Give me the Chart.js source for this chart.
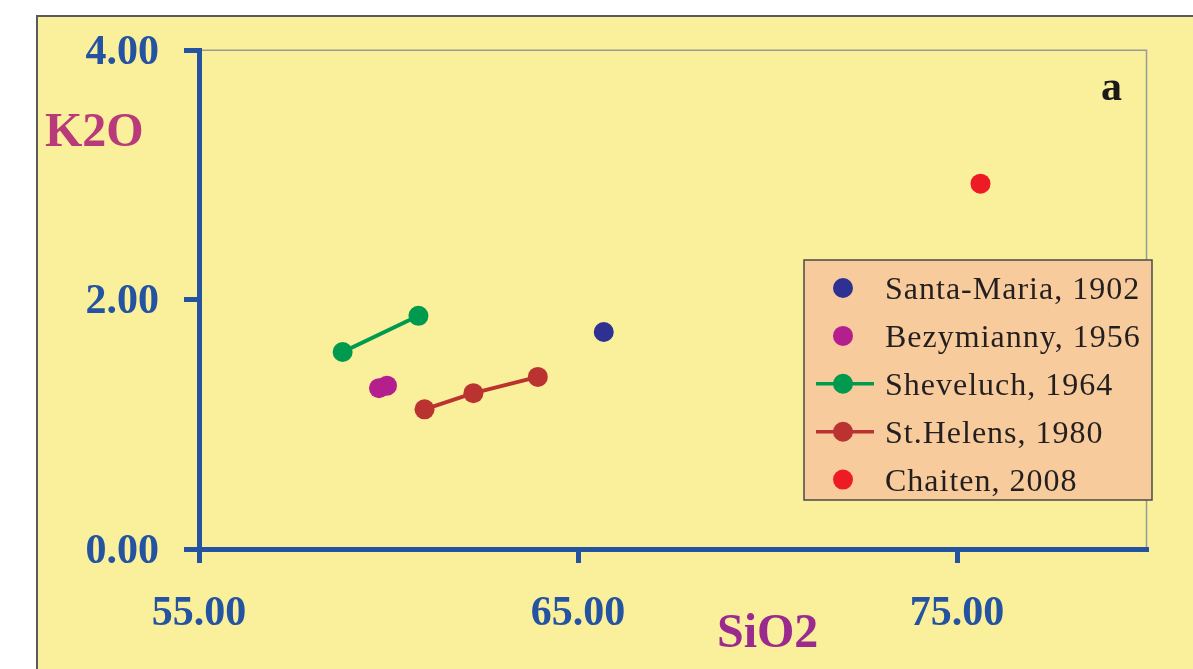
<!DOCTYPE html>
<html>
<head>
<meta charset="utf-8">
<title>K2O vs SiO2</title>
<script src="https://cdn.jsdelivr.net/npm/chart.js@4.4.1/dist/chart.umd.min.js"></script>
<style>
  html, body { margin: 0; padding: 0; background: #ffffff; }
  #wrap { width: 1193px; height: 669px; }
</style>
</head>
<body>
<div id="wrap"><canvas id="chart" width="1193" height="669"></canvas></div>
<script>
// Eruption products: SiO2 (wt%) vs K2O (wt%)
const seriesNames = ['Santa-Maria, 1902', 'Bezymianny, 1956', 'Sheveluch, 1964', 'St.Helens, 1980', 'Chaiten, 2008'];

const santaMariaSiO2 = [65.68];
const santaMariaK2O  = [1.74];

const bezymiannySiO2 = [59.75, 59.96];
const bezymiannyK2O  = [1.29, 1.31];

const shevelucSiO2 = [58.79, 60.79];
const shevelucK2O  = [1.58, 1.87];

const stHelensSiO2 = [60.95, 62.24, 63.94];
const stHelensK2O  = [1.12, 1.25, 1.38];

const chaitenSiO2 = [75.62];
const chaitenK2O  = [2.93];

const xTicks = [55, 65, 75];
const yTicks = [0, 2, 4];

const seriesColors = ['#2E3192', '#B41F8D', '#009A4E', '#BB3331', '#ED1C24'];

const AXIS_BLUE = '#2453A2';
const SERIF = "'Liberation Serif', 'Times New Roman', serif";

function toPoints(xs, ys) {
  return xs.map((x, i) => ({ x: x, y: ys[i] }));
}

const seriesData = [
  { x: santaMariaSiO2, y: santaMariaK2O, line: false },
  { x: bezymiannySiO2, y: bezymiannyK2O, line: false },
  { x: shevelucSiO2,   y: shevelucK2O,   line: true },
  { x: stHelensSiO2,   y: stHelensK2O,   line: true },
  { x: chaitenSiO2,    y: chaitenK2O,    line: false }
];

const datasets = seriesData.map((s, i) => ({
  label: seriesNames[i],
  data: toPoints(s.x, s.y),
  showLine: s.line,
  borderColor: seriesColors[i],
  backgroundColor: seriesColors[i],
  borderWidth: 4,
  pointRadius: 10,
  pointBorderWidth: 0,
  pointBackgroundColor: seriesColors[i],
  pointHoverRadius: 10
}));

// Page frame, plot frame and free-standing text labels
const framePlugin = {
  id: 'frame',
  beforeDraw(chart) {
    const ctx = chart.ctx;
    const a = chart.chartArea;
    ctx.save();
    ctx.fillStyle = '#ffffff';
    ctx.fillRect(0, 0, chart.width, chart.height);
    ctx.fillStyle = '#FAEF9A';
    ctx.fillRect(36, 15, chart.width - 36, chart.height - 15);
    ctx.strokeStyle = '#5a5a5a';
    ctx.lineWidth = 2;
    ctx.beginPath();
    ctx.moveTo(37, chart.height);
    ctx.lineTo(37, 16);
    ctx.lineTo(chart.width, 16);
    ctx.stroke();
    // plot area outline (top and right)
    ctx.strokeStyle = '#9a9a9a';
    ctx.lineWidth = 1.5;
    ctx.beginPath();
    ctx.moveTo(a.left, a.top);
    ctx.lineTo(a.right, a.top);
    ctx.lineTo(a.right, a.bottom);
    ctx.stroke();
    ctx.restore();
  },
  afterDraw(chart) {
    const ctx = chart.ctx;
    ctx.save();
    ctx.textAlign = 'left';
    ctx.textBaseline = 'alphabetic';
    ctx.font = 'bold 48px ' + SERIF;
    ctx.fillStyle = '#B83A7A';
    ctx.fillText('K2O', 45, 146);
    ctx.fillStyle = '#9B2A8E';
    ctx.fillText('SiO2', 717, 647);
    ctx.font = 'bold 42px ' + SERIF;
    ctx.fillStyle = '#1a1a1a';
    ctx.fillText('a', 1101, 100);
    ctx.restore();
  }
};

// Legend box drawn from the datasets
const legendBoxPlugin = {
  id: 'legendBox',
  afterDatasetsDraw(chart) {
    const ctx = chart.ctx;
    const box = { x: 804, y: 260, w: 348, h: 240 };
    const rowY0 = 288, rowStep = 47.9;
    ctx.save();
    ctx.fillStyle = '#F7CB9B';
    ctx.fillRect(box.x, box.y, box.w, box.h);
    ctx.strokeStyle = '#4a4a4a';
    ctx.lineWidth = 1.5;
    ctx.strokeRect(box.x, box.y, box.w, box.h);
    chart.data.datasets.forEach((ds, i) => {
      const cy = rowY0 + i * rowStep;
      const cx = 843;
      if (ds.showLine) {
        ctx.strokeStyle = ds.borderColor;
        ctx.lineWidth = 3.5;
        ctx.beginPath();
        ctx.moveTo(816, cy);
        ctx.lineTo(874, cy);
        ctx.stroke();
      }
      ctx.fillStyle = ds.pointBackgroundColor;
      ctx.beginPath();
      ctx.arc(cx, cy, 10, 0, Math.PI * 2);
      ctx.fill();
      ctx.fillStyle = '#231F20';
      ctx.font = '32px ' + SERIF;
      ctx.letterSpacing = '1px';
      ctx.textAlign = 'left';
      ctx.textBaseline = 'alphabetic';
      ctx.fillText(ds.label, 885, cy + 11);
    });
    ctx.restore();
  }
};

const tickFont = { family: SERIF, size: 42, weight: 'bold' };

new Chart(document.getElementById('chart'), {
  type: 'scatter',
  data: { datasets: datasets },
  options: {
    responsive: false,
    devicePixelRatio: 1,
    animation: false,
    layout: { padding: { left: 0, top: 50, right: 46.5, bottom: 0 } },
    plugins: {
      legend: { display: false },
      tooltip: { enabled: false }
    },
    scales: {
      x: {
        type: 'linear',
        min: 55,
        max: 80,
        afterBuildTicks(scale) { scale.ticks = xTicks.map(v => ({ value: v })); },
        afterFit(scale) { scale.height = 120; },
        ticks: {
          color: AXIS_BLUE,
          font: tickFont,
          padding: 26,
          maxRotation: 0,
          callback: v => Number(v).toFixed(2)
        },
        grid: { drawOnChartArea: false, drawTicks: true, tickLength: 14, color: AXIS_BLUE, lineWidth: 5 },
        border: { color: AXIS_BLUE, width: 5 }
      },
      y: {
        type: 'linear',
        min: 0,
        max: 4,
        afterBuildTicks(scale) { scale.ticks = yTicks.map(v => ({ value: v })); },
        afterFit(scale) { scale.width = 199; },
        ticks: {
          color: AXIS_BLUE,
          font: tickFont,
          padding: 25,
          labelOffset: 3,
          callback: v => Number(v).toFixed(2)
        },
        grid: { drawOnChartArea: false, drawTicks: true, tickLength: 15, color: AXIS_BLUE, lineWidth: 5 },
        border: { color: AXIS_BLUE, width: 5 }
      }
    }
  },
  plugins: [framePlugin, legendBoxPlugin]
});
</script>
</body>
</html>
